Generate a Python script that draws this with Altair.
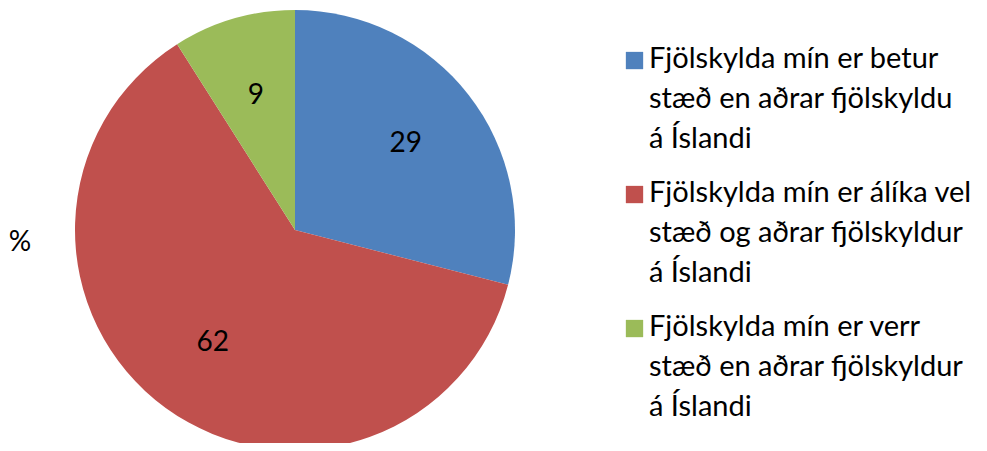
import altair as alt
import pandas as pd

categories = [
    "Fjölskylda mín er betur\nstæð en aðrar fjölskyldu\ná Íslandi",
    "Fjölskylda mín er álíka vel\nstæð og aðrar fjölskyldur\ná Íslandi",
    "Fjölskylda mín er verr\nstæð en aðrar fjölskyldur\ná Íslandi",
]
values = [29, 62, 9]
colors = ["#4F81BD", "#C0504D", "#9BBB59"]
series_name = "%"

df = pd.DataFrame({"cat": categories, "value": values, "idx": list(range(len(values)))})

FONT = "Lato"

base = alt.Chart(df).encode(
    theta=alt.Theta("value:Q", stack=True),
    order=alt.Order("idx:Q"),
)

pie = base.mark_arc(radius=220).encode(
    x=alt.value(287),
    y=alt.value(222),
    color=alt.Color(
        "cat:N",
        sort=categories,
        scale=alt.Scale(domain=categories, range=colors),
        legend=alt.Legend(
            title=None,
            orient="none",
            legendX=612,
            legendY=22,
            symbolType="M-1,0.85H1V2.85H-1Z",
            symbolSize=300,
            symbolStrokeWidth=0,
            labelFont=FONT,
            labelFontSize=29,
            labelColor="#000000",
            labelLimit=400,
            labelOffset=0,
            labelExpr="split(datum.label, '\\n')",
            labelBaseline="top",
            rowPadding=10,
        ),
    ),
)

labels = base.mark_text(radius=140, font=FONT, fontSize=28, color="#000000").encode(
    x=alt.value(287),
    y=alt.value(222),
    text=alt.Text("value:Q"),
)

pct = alt.Chart(pd.DataFrame({"t": [series_name]})).mark_text(
    font=FONT, fontSize=28, color="#000000"
).encode(text="t:N", x=alt.value(12), y=alt.value(235))

chart = (
    alt.layer(pie, labels, pct)
    .properties(width=971, height=435, padding=0, autosize=alt.AutoSizeParams(type="none"))
    .configure(
        view={"strokeWidth": 0},
        style={"guide-label": {"lineHeight": 40}},
    )
)

chart.save("out.html", embed_options={"renderer": "svg", "actions": False})
